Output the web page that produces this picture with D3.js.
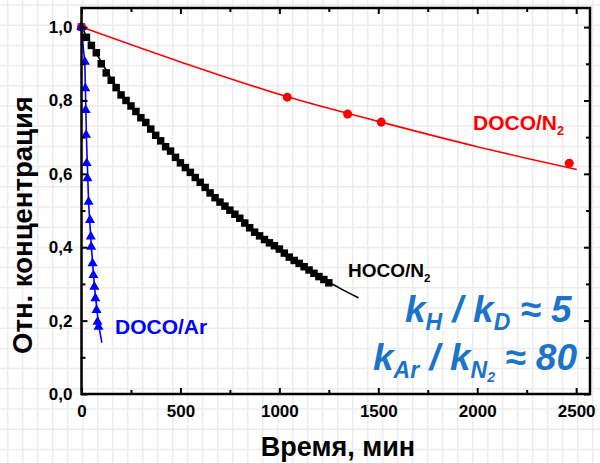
<!DOCTYPE html>
<html><head><meta charset="utf-8">
<script src="https://cdn.jsdelivr.net/npm/d3@7"></script>
<style>body{margin:0;background:#fff}svg{display:block}</style>
</head><body><svg id="c" width="600" height="463"></svg>
<script>
// ---- data ----
const xTicks = [0, 500, 1000, 1500, 2000, 2500];
const yTicks = [0, 0.2, 0.4, 0.6, 0.8, 1.0];

// HOCO/N2 (black squares)
const hocoT = [0,25,50,75,100,125,150,175,200,225,250,275,300,325,350,375,400,425,450,475,500,525,550,575,600,625,650,675,700,725,750,775,800,825,850,875,900,925,950,975,1000,1025,1050,1075,1100,1125,1150,1175,1200,1225,1250];
const hocoY = [1.000,0.972,0.950,0.930,0.900,0.875,0.855,0.835,0.815,0.800,0.785,0.770,0.753,0.740,0.722,0.705,0.690,0.674,0.662,0.645,0.630,0.617,0.604,0.590,0.577,0.563,0.548,0.535,0.523,0.512,0.501,0.490,0.479,0.466,0.453,0.441,0.431,0.421,0.412,0.404,0.395,0.384,0.373,0.364,0.356,0.347,0.338,0.329,0.320,0.312,0.303];
const hocoFitT = [0,100,200,300,400,500,600,700,800,900,1000,1100,1200,1300,1400];
const hocoFitY = [1.0,0.905,0.818,0.752,0.690,0.630,0.577,0.523,0.479,0.431,0.395,0.356,0.320,0.290,0.262];

// DOCO/N2 (red circles)
const docoN2T = [0,1040,1345,1515,2465];
const docoN2Y = [1.0,0.809,0.763,0.741,0.629];
const docoN2FitT = [0,500,1040,1500,2000,2503];
const docoN2FitY = [1.0,0.905,0.810,0.743,0.674,0.612];

// DOCO/Ar (blue triangles)
const docoArT = [0,17,19,21,23,26,30,36,43,47,49,56,60,65,70,76,81,86];
const docoArY = [1.0,0.905,0.833,0.774,0.706,0.629,0.588,0.524,0.474,0.429,0.401,0.356,0.324,0.292,0.261,0.229,0.197,0.183];
const docoArFitT = [0,8,17,25,36,50,66,86,103];
const docoArFitY = [1.0,0.95,0.90,0.70,0.52,0.40,0.29,0.19,0.14];

// ---- layout ----
const svg = d3.select('#c');
const W = 600, H = 463;
const L = 81.5, R = 590, T = 8, B = 394;
const x = d3.scaleLinear().domain([0, 2570]).range([L, R]);
const y = d3.scaleLinear().domain([0, 1.052]).range([B, T]);
const fmt = v => d3.format('.1f')(v).replace('.', ',');
const font = 'Liberation Sans, Arial, Helvetica, sans-serif';

// graph-paper background
const bg = svg.append('g').attr('stroke', '#ececec').attr('stroke-width', 1.5);
d3.range(7.7, W, 15).forEach(v => bg.append('line').attr('x1', v).attr('x2', v).attr('y1', 0).attr('y2', H));
d3.range(5, H, 20.2).forEach(v => bg.append('line').attr('y1', v).attr('y2', v).attr('x1', 0).attr('x2', W));

// fit lines
const line = d3.line().x(d => x(d[0])).y(d => y(d[1])).curve(d3.curveMonotoneX);
const zip = (a, b) => a.map((v, i) => [v, b[i]]);
svg.append('path').datum(zip(docoN2FitT, docoN2FitY)).attr('d', line).attr('fill', 'none').attr('stroke', '#ff0000').attr('stroke-width', 1.6);
svg.append('path').datum(zip(hocoFitT, hocoFitY)).attr('d', line).attr('fill', 'none').attr('stroke', '#000').attr('stroke-width', 1.6);
svg.append('path').datum(zip(docoArFitT, docoArFitY)).attr('d', d3.line().x(d => x(d[0])).y(d => y(d[1]))).attr('fill', 'none').attr('stroke', '#0000ff').attr('stroke-width', 1.6);

// markers
svg.append('g').selectAll('path').data(zip(hocoT, hocoY)).join('path')
  .attr('d', d3.symbol(d3.symbolSquare, 56)).attr('transform', d => `translate(${x(d[0])},${y(d[1])})`).attr('fill', '#000');
svg.append('g').selectAll('path').data(zip(docoN2T, docoN2Y)).join('path')
  .attr('d', d3.symbol(d3.symbolCircle, 64)).attr('transform', d => `translate(${x(d[0])},${y(d[1])})`).attr('fill', '#ff0000');
svg.append('g').selectAll('path').data(zip(docoArT, docoArY)).join('path')
  .attr('d', d3.symbol(d3.symbolTriangle, 44)).attr('transform', d => `translate(${x(d[0])},${y(d[1])})`).attr('fill', '#0000ff');

// axes
const yMinor = d3.range(0.1, 1.0, 0.2);
const xMinor = d3.range(250, 2570, 500);
function styleAxis(g) { g.select('.domain').remove(); g.selectAll('line').attr('stroke', '#000').attr('stroke-width', 2); g.selectAll('text').attr('font-family', font).attr('font-weight', 'bold').attr('font-size', 17).attr('fill', '#000'); }
svg.append('g').attr('transform', `translate(0,${B})`).call(d3.axisBottom(x).tickValues(xTicks).tickFormat(d3.format('d')).tickSizeInner(-6).tickSizeOuter(0).tickPadding(11)).call(styleAxis);
svg.append('g').attr('transform', `translate(0,${B})`).call(d3.axisBottom(x).tickValues(xMinor).tickFormat('').tickSizeInner(-4).tickSizeOuter(0)).call(styleAxis);
svg.append('g').attr('transform', `translate(0,${T})`).call(d3.axisTop(x).tickValues(xTicks).tickFormat('').tickSizeInner(-6).tickSizeOuter(0)).call(styleAxis);
svg.append('g').attr('transform', `translate(0,${T})`).call(d3.axisTop(x).tickValues(xMinor).tickFormat('').tickSizeInner(-4).tickSizeOuter(0)).call(styleAxis);
svg.append('g').attr('transform', `translate(${L},0)`).call(d3.axisLeft(y).tickValues(yTicks).tickFormat(fmt).tickSizeInner(-6).tickSizeOuter(0).tickPadding(9)).call(styleAxis);
svg.append('g').attr('transform', `translate(${L},0)`).call(d3.axisLeft(y).tickValues(yMinor).tickFormat('').tickSizeInner(-4).tickSizeOuter(0)).call(styleAxis);
svg.append('g').attr('transform', `translate(${R},0)`).call(d3.axisRight(y).tickValues(yTicks).tickFormat('').tickSizeInner(-6).tickSizeOuter(0)).call(styleAxis);
svg.append('g').attr('transform', `translate(${R},0)`).call(d3.axisRight(y).tickValues(yMinor).tickFormat('').tickSizeInner(-4).tickSizeOuter(0)).call(styleAxis);

// frame
svg.append('rect').attr('x', L).attr('y', T).attr('width', R - L).attr('height', B - T).attr('fill', 'none').attr('stroke', '#000').attr('stroke-width', 2.5);

// axis titles
svg.append('text').attr('x', 338).attr('y', 456).attr('text-anchor', 'middle').attr('font-family', font).attr('font-weight', 'bold').attr('font-size', 27).text('Время, мин');
svg.append('text').attr('transform', 'translate(32,225) rotate(-90)').attr('text-anchor', 'middle').attr('font-family', font).attr('font-weight', 'bold').attr('font-size', 27.5).text('Отн. концентрация');

// series labels
function label(xp, yp, main, sub, color, size) {
  const t = svg.append('text').attr('x', xp).attr('y', yp).attr('font-family', font).attr('font-weight', 'bold').attr('font-size', size).attr('fill', color);
  t.append('tspan').text(main);
  if (sub) t.append('tspan').attr('dy', 5).attr('font-size', size * 0.6).text(sub);
}
label(115, 334, 'DOCO/Ar', null, '#0000ff', 21);
label(348, 277, 'HOCO/N', '2', '#000', 19);
label(473, 130, 'DOCO/N', '2', '#ff0000', 21);

// formulas
const fc = '#1c74c8';
const f1 = svg.append('text').attr('x', 405).attr('y', 322).attr('font-family', font).attr('font-weight', 'bold').attr('font-style', 'italic').attr('font-size', 37).attr('fill', fc);
f1.append('tspan').text('k');
f1.append('tspan').attr('dy', 8).attr('font-size', 23).text('H');
f1.append('tspan').attr('dy', -8).text(' / k');
f1.append('tspan').attr('dy', 8).attr('font-size', 23).text('D');
f1.append('tspan').attr('dy', -8).text(' ≈ 5');
const f2 = svg.append('text').attr('x', 373).attr('y', 370).attr('font-family', font).attr('font-weight', 'bold').attr('font-style', 'italic').attr('font-size', 37).attr('fill', fc);
f2.append('tspan').text('k');
f2.append('tspan').attr('dy', 8).attr('font-size', 23).text('Ar');
f2.append('tspan').attr('dy', -8).text(' / k');
f2.append('tspan').attr('dy', 8).attr('font-size', 23).text('N');
f2.append('tspan').attr('dy', 4).attr('font-size', 14).text('2');
f2.append('tspan').attr('dy', -12).text(' ≈ 80');
</script></body></html>
